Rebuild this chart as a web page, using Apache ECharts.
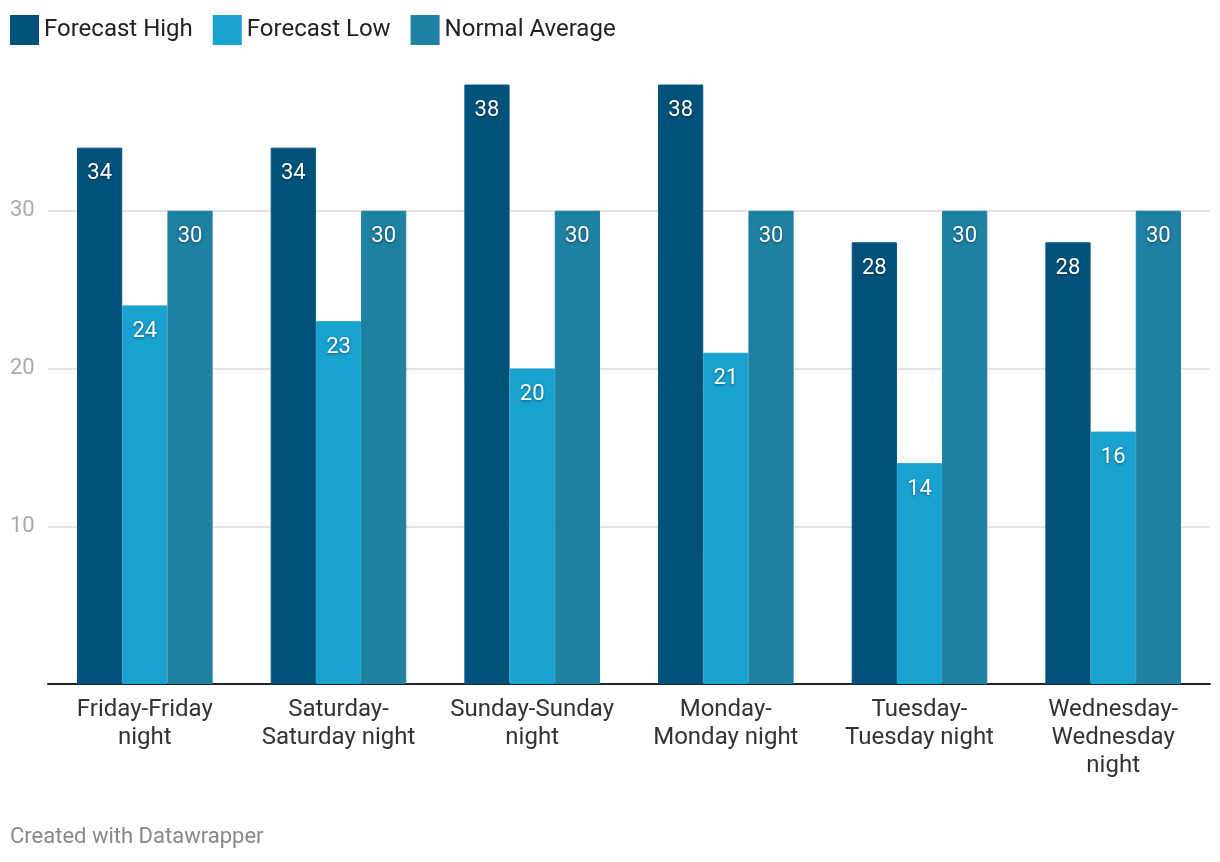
<!DOCTYPE html>
<html>
<head>
<meta charset="utf-8">
<script src="https://cdn.jsdelivr.net/npm/echarts@6/dist/echarts.min.js"></script>
<style>
html,body{margin:0;padding:0;background:#fff;}
#chart{width:1220px;height:862px;}
</style>
</head>
<body>
<div id="chart"></div>
<script>
const categories = ["Friday-Friday\nnight", "Saturday-\nSaturday night", "Sunday-Sunday\nnight", "Monday-\nMonday night", "Tuesday-\nTuesday night", "Wednesday-\nWednesday\nnight"];
const forecastHigh = [34, 34, 38, 38, 28, 28];
const forecastLow = [24, 23, 20, 21, 14, 16];
const normalAverage = [30, 30, 30, 30, 30, 30];
const seriesNames = ["Forecast High", "Forecast Low", "Normal Average"];
const colors = ["#00527a", "#19a2cf", "#1f81a2"];

const chart = echarts.init(document.getElementById('chart'));
const labelStyle = {
  show: true,
  position: 'insideTop',
  distance: 15,
  color: '#fff',
  fontSize: 22,
  fontFamily: 'Roboto',
  textShadowColor: 'rgba(0,0,0,0.45)',
  textShadowBlur: 3,
  textShadowOffsetX: 0,
  textShadowOffsetY: 1
};
function mk(name, data, color) {
  return {
    name: name, type: 'bar', data: data,
    itemStyle: { color: color, borderColor: color, borderWidth: 1 },
    barGap: '0%', barCategoryGap: '30%',
    label: labelStyle,
    emphasis: { disabled: true }
  };
}
chart.setOption({
  animation: false,
  textStyle: { fontFamily: 'Roboto' },
  legend: {
    left: 5, top: 10,
    icon: 'rect',
    itemWidth: 27, itemHeight: 28, itemGap: 20,
    textStyle: { fontSize: 24, color: '#222', fontFamily: 'Roboto', padding: [0, 0, 0, 1] },
    data: seriesNames
  },
  graphic: [{
    type: 'text', left: 10, top: 826,
    style: { text: 'Created with Datawrapper', fill: '#888', fontSize: 22, fontFamily: 'Roboto' }
  }],
  grid: { left: 48, right: 10, top: 53, bottom: 178 },
  xAxis: {
    type: 'category', data: categories,
    axisLine: { lineStyle: { color: '#222', width: 2 } },
    axisTick: { show: false },
    axisLabel: { fontSize: 24, color: '#333', lineHeight: 28, margin: 12, interval: 0, fontFamily: 'Roboto' }
  },
  yAxis: {
    type: 'value', min: 0, max: 40, interval: 10,
    axisLine: { show: false }, axisTick: { show: false },
    axisLabel: {
      align: 'left', margin: 38, fontSize: 22, color: '#aaa', fontFamily: 'Roboto',
      formatter: v => (v === 0 || v === 40) ? '' : String(v)
    },
    splitLine: { show: true, showMinLine: false, showMaxLine: false, lineStyle: { color: '#e3e3e3', width: 2 } }
  },
  series: [
    mk(seriesNames[0], forecastHigh, colors[0]),
    mk(seriesNames[1], forecastLow, colors[1]),
    mk(seriesNames[2], normalAverage, colors[2])
  ]
});
</script>
</body>
</html>
